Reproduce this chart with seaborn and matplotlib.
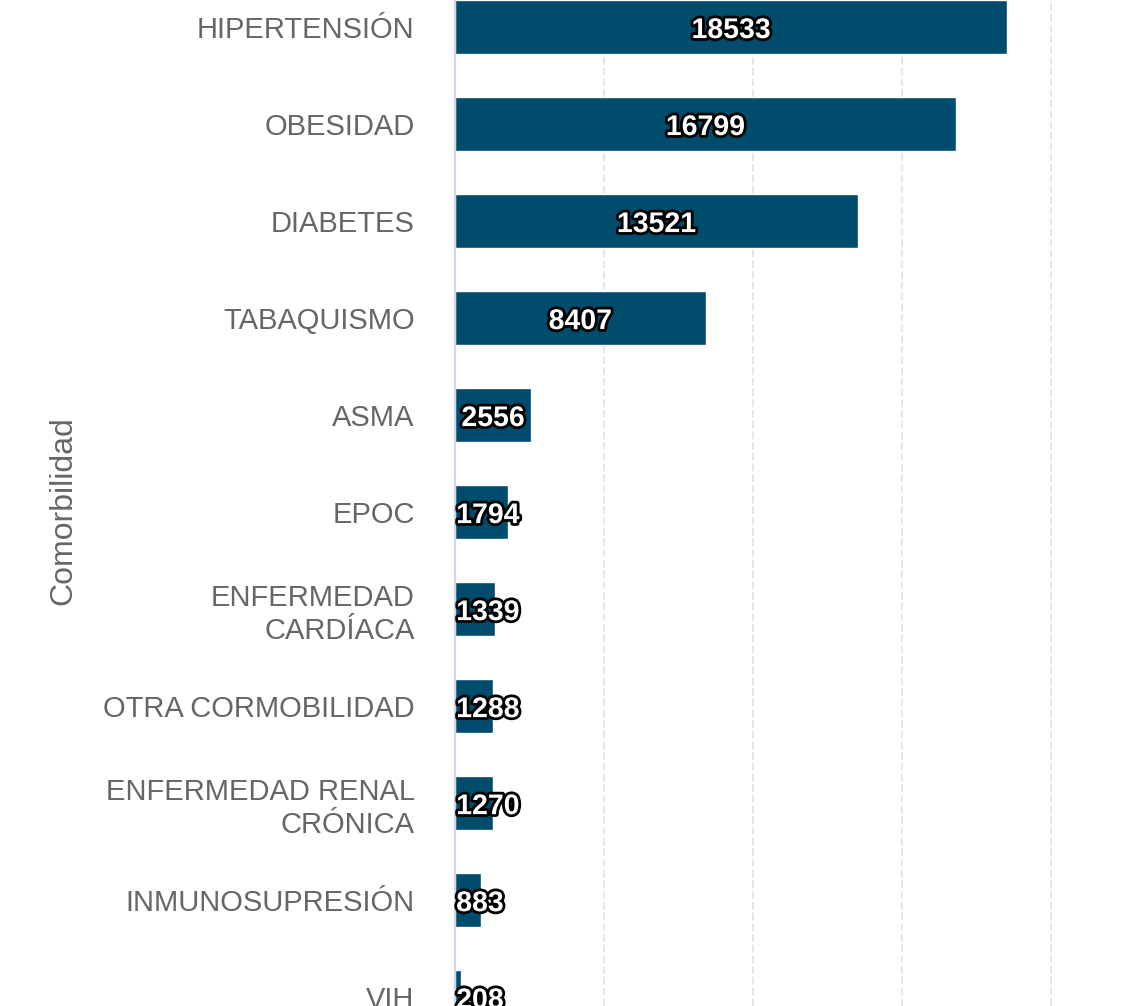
import matplotlib
matplotlib.use("Agg")
import matplotlib.pyplot as plt
import matplotlib.patheffects as pe
import seaborn as sns

# Comorbidity counts
comorbilidades = [
    "HIPERTENSIÓN", "OBESIDAD", "DIABETES", "TABAQUISMO", "ASMA", "EPOC",
    "ENFERMEDAD\nCARDÍACA", "OTRA CORMOBILIDAD", "ENFERMEDAD RENAL\nCRÓNICA",
    "INMUNOSUPRESIÓN", "VIH",
]
casos = [18533, 16799, 13521, 8407, 2556, 1794, 1339, 1288, 1270, 883, 208]
grid_ticks = [5000, 10000, 15000, 20000]

BAR_COLOR = "#004c6d"
TEXT_GRAY = "#666666"

sns.set_theme(style="white")
plt.rcParams["font.family"] = ["Liberation Sans", "DejaVu Sans"]

fig = plt.figure(figsize=(11.36, 10.06), dpi=100)
# plot area runs past the right/bottom edge (the reference is a crop)
ax = fig.add_axes([455 / 1136, 0.0, 745 / 1136, 1.0])

sns.barplot(x=casos, y=comorbilidades, orient="h", color=BAR_COLOR,
            saturation=1, width=0.557, ax=ax, zorder=3)

ax.set_xlim(0, 25000)
ax.set_ylim(10.09, -0.28)
ax.set_xticks(grid_ticks)
ax.xaxis.grid(True, color="#e6e6e6", linewidth=1.4, linestyle=(0, (4, 1.5)), zorder=0)
ax.set_axisbelow(True)
ax.tick_params(axis="x", bottom=False, labelbottom=False)
ax.tick_params(axis="y", length=0, pad=29, labelsize=21, labelcolor=TEXT_GRAY)

for side in ["top", "right", "bottom"]:
    ax.spines[side].set_visible(False)
ax.spines["left"].set_color("#ccd6eb")
ax.spines["left"].set_linewidth(1.5)
ax.spines["left"].set_zorder(4)

ax.set_xlabel("")
ax.set_ylabel("Comorbilidad", fontsize=23, color=TEXT_GRAY)
ax.yaxis.set_label_coords(-0.505, 0.492)

# value labels: centred in the bar, or pushed to the bar start if it does not fit
outline = [pe.withStroke(linewidth=4, foreground="black")]
for i, v in enumerate(casos):
    if v > 2300:
        x, ha = v / 2, "center"
    else:
        x, ha = 40, "left"
    ax.text(x, i + 0.04, str(v), ha=ha, va="center", fontsize=20.5,
            fontweight="bold", color="white", path_effects=outline, zorder=5)

fig.savefig("out.png", dpi=100)
